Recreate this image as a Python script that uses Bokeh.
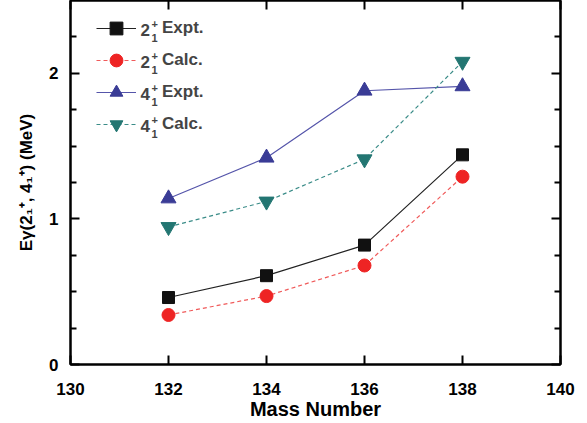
from bokeh.plotting import figure
from bokeh.models import Range1d, LinearAxis, FixedTicker, Legend, LegendItem, Label
from bokeh.embed import file_html
from bokeh.resources import INLINE

# ---- data ----
mass = [132, 134, 136, 138]
e2_expt = [0.46, 0.61, 0.82, 1.44]
e2_calc = [0.34, 0.47, 0.68, 1.29]
e4_expt = [1.14, 1.42, 1.88, 1.91]
e4_calc = [0.945, 1.12, 1.41, 2.08]
x_ticks = [130, 132, 134, 136, 138, 140]
y_ticks = [0, 1, 2]
y_minor = [0.25, 0.5, 0.75, 1.25, 1.5, 1.75, 2.25]
legend_states = ["2", "2", "4", "4"]
legend_kinds = ["Expt.", "Calc.", "Expt.", "Calc."]

FONT = "Liberation Sans"
FW, FH = 490, 364
X0, X1, Y0, Y1 = 130, 140, 0, 2.5

p = figure(frame_width=FW, frame_height=FH,
           x_range=Range1d(X0, X1), y_range=Range1d(Y0, Y1),
           output_backend="svg", toolbar_location=None,
           min_border_left=70, min_border_right=19,
           min_border_top=0, min_border_bottom=50,
           x_axis_label="Mass Number",
           y_axis_label="E\u03b3(2\u2081\u207a, 4\u2081\u207a) (MeV)")
p.grid.visible = False
p.outline_line_color = "black"
p.outline_line_width = 2
p.background_fill_color = "white"
p.border_fill_color = "white"

xt = FixedTicker(ticks=x_ticks, minor_ticks=[])
yt = FixedTicker(ticks=y_ticks, minor_ticks=y_minor)

def style_axis(ax):
    ax.axis_line_width = 2
    ax.axis_line_color = "black"
    ax.major_tick_in = 9
    ax.major_tick_out = 0
    ax.minor_tick_in = 6
    ax.minor_tick_out = 0
    ax.major_tick_line_width = 2
    ax.minor_tick_line_width = 2
    ax.major_label_text_font = FONT
    ax.major_label_text_font_style = "bold"
    ax.major_label_text_font_size = "17px"
    ax.major_label_text_color = "black"
    ax.axis_label_text_font = FONT
    ax.axis_label_text_font_style = "bold"
    ax.axis_label_text_font_size = "20px"
    ax.axis_label_text_color = "black"

p.xaxis.ticker = xt
p.yaxis.ticker = yt
style_axis(p.xaxis[0])
style_axis(p.yaxis[0])
p.xaxis.major_label_standoff = 18
p.xaxis.axis_label_standoff = 0
p.yaxis.major_label_standoff = 12
p.yaxis.axis_label_standoff = 10
p.yaxis.axis_label_text_font_size = "17px"

top = LinearAxis(ticker=xt, major_label_standoff=0,
                 major_label_overrides={t: "" for t in x_ticks})
right = LinearAxis(ticker=yt, major_label_standoff=0,
                   major_label_overrides={t: "" for t in y_ticks})
style_axis(top)
style_axis(right)
p.add_layout(top, "above")
p.add_layout(right, "right")

# ---- series ----
series = [
    (e2_expt, "#222222", "solid", "square", 12, "#111111"),
    (e2_calc, "#f05a5a", "4 3", "circle", 13, "#ee2424"),
    (e4_expt, "#5555aa", "solid", "triangle", 15, "#3a3c96"),
    (e4_calc, "#3a8c88", "4 3", "inverted_triangle", 15, "#237672"),
]
items = []
for (ys, lc, dash, mk, sz, mc), kind in zip(series, legend_kinds):
    rl = p.line(mass, ys, line_color=lc, line_width=1.2, line_dash=dash)
    rm = p.scatter(mass, ys, marker=mk, size=sz, fill_color=mc, line_color=mc)
    items.append(LegendItem(label=kind, renderers=[rl, rm]))

LEG_TOP = 13
legend = Legend(items=items, location=(26, FH - LEG_TOP - 127),
                glyph_width=40, glyph_height=32, label_height=31,
                spacing=0, padding=0, margin=0,
                border_line_color=None, background_fill_alpha=0,
                label_standoff=26, label_text_font=FONT,
                label_text_font_style="bold", label_text_font_size="17px")
p.add_layout(legend)

def dx(px):
    return X0 + px * (X1 - X0) / FW

def dy(py):
    return Y1 - py * (Y1 - Y0) / FH

for i, st in enumerate(legend_states):
    cy = LEG_TOP + 16 + 32 * i
    p.add_layout(Label(x=dx(70), y=dy(cy), text=st, text_font=FONT,
                       text_font_style="bold", text_font_size="17px",
                       text_align="left", text_baseline="middle"))
    p.add_layout(Label(x=dx(81), y=dy(cy - 6), text="+", text_font=FONT,
                       text_font_style="bold", text_font_size="11px",
                       text_align="left", text_baseline="middle"))
    p.add_layout(Label(x=dx(81), y=dy(cy + 8), text="1", text_font=FONT,
                       text_font_style="bold", text_font_size="11px",
                       text_align="left", text_baseline="middle"))

open("out.html", "w").write(file_html(p, INLINE))
